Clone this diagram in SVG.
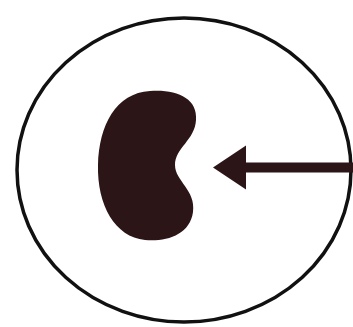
<svg xmlns="http://www.w3.org/2000/svg" width="353" height="327" viewBox="0 0 353 327">
<style>
.dark{fill:#2b1517}
.outline{fill:none;stroke:#111;stroke-width:3.5}
</style>
<defs>
<marker id="head" markerUnits="userSpaceOnUse" markerWidth="34" markerHeight="46" refX="11" refY="23" orient="auto">
<path d="M0 1 L33 23 L0 45 Z" class="dark"/>
</marker>
</defs>
<rect width="353" height="327" fill="#fff"/>
<g id="cell">
<ellipse cx="184" cy="170" rx="167" ry="152" class="outline"/>
</g>
<g id="nucleus">
<path class="dark" d="M150 91 C176 89 198 98 196 120 C195 140 175 148 175 165 C175 181 196 190 193 212 C190 235 166 242 145 240 C115 237 97 205 98 165 C99 125 116 93 150 91 Z"/>
</g>
<g id="connectors">
<line x1="353" y1="167.5" x2="235" y2="167.5" stroke="#2b1517" stroke-width="10" marker-end="url(#head)"/>
</g>
</svg>
